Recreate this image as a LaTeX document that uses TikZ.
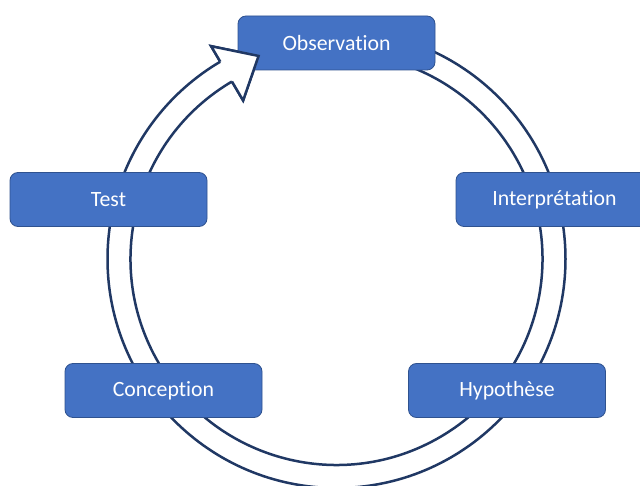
\documentclass[tikz,border=0pt]{standalone}
\usepackage{fontspec}
\setmainfont{Carlito}[Ligatures={NoCommon}]
\definecolor{ringblue}{HTML}{203864}
\definecolor{boxblue}{HTML}{4472C4}
\definecolor{boxedge}{HTML}{2F528F}
\begin{document}
\begin{tikzpicture}[x=1pt,y=1pt,
  ring/.style={draw=ringblue, line width=2.5pt, fill=white, line join=miter},
  stage/.style={rectangle, rounded corners=8pt, draw=boxedge, line width=0.8pt,
    fill=boxblue, text=white, minimum width=197pt, minimum height=54pt,
    inner sep=0pt, font=\fontsize{21.8}{24}\selectfont}]
\useasboundingbox (0,0) rectangle (640,485);
\coordinate (c) at (336.5,226);
% ring arrow body
\path[ring] ([shift={(120.5:229)}]c) -- ([shift={(120.5:247)}]c)
  -- ([shift={(111:217.5)}]c) -- ([shift={(120.5:184)}]c)
  -- ([shift={(120.5:206)}]c)
  arc[start angle=120.5, end angle=450, radius=206]
  -- ([shift={(90:229)}]c)
  arc[start angle=450, end angle=120.5, radius=229] -- cycle;
% stages
\node[stage] (obs) at (336.5,442) {Observation};
\node[stage] (interp) at (554.5,285.5) {Interprétation};
\node[stage] (hyp) at (507,94.5) {Hypothèse};
\node[stage] (conc) at (163.5,94.5) {Conception};
\node[stage] (test) at (108.5,285.5) {Test};
% arrowhead on top of the Observation box
\filldraw[draw=ringblue, fill=white, line width=2.5pt, line join=miter]
  ([shift={(120.5:229)}]c) -- ([shift={(120.5:247)}]c)
  -- ([shift={(111:217.5)}]c) -- ([shift={(120.5:184)}]c)
  -- ([shift={(120.5:206)}]c);
\end{tikzpicture}
\end{document}
